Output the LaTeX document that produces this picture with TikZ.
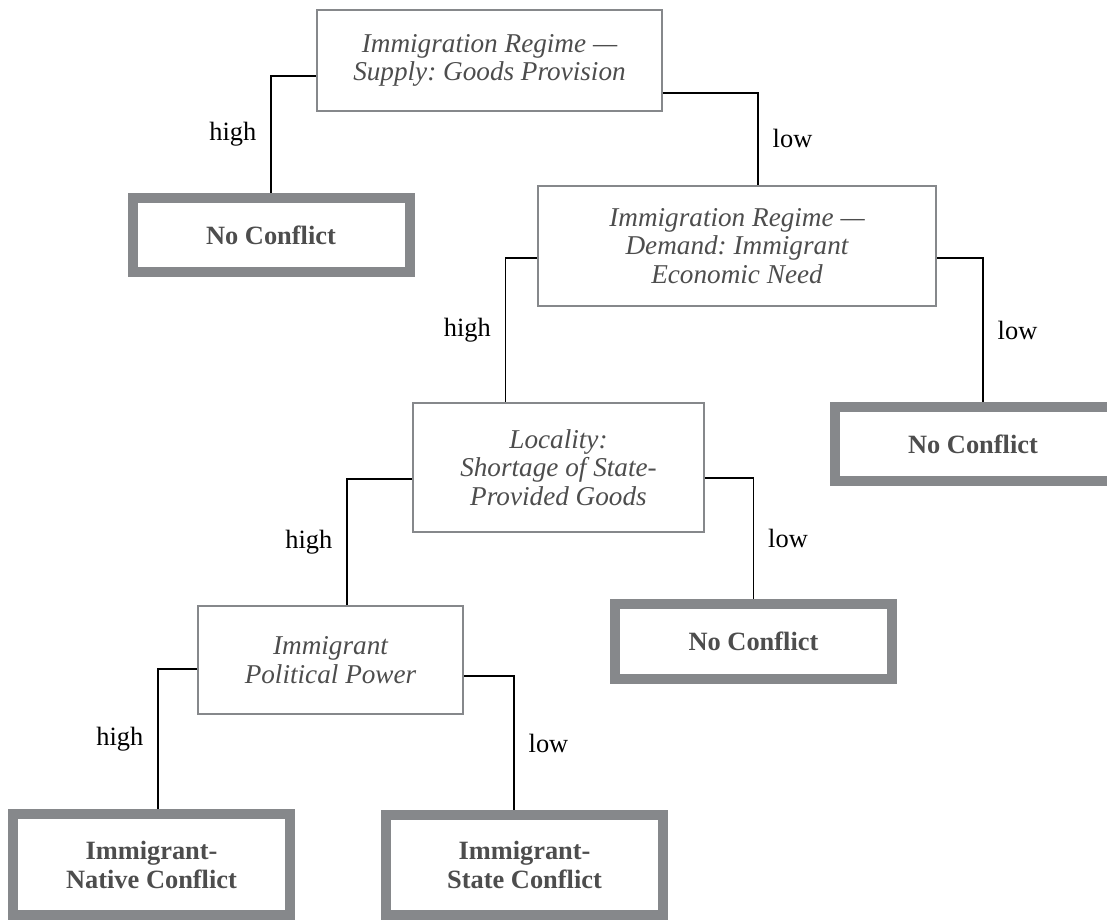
\documentclass[tikz,border=0pt]{standalone}
\usepackage{fontspec}
\setmainfont{Liberation Serif}
\frenchspacing
\definecolor{boxgray}{HTML}{86888B}
\definecolor{textgray}{HTML}{4D4D4D}

\begin{document}
\begin{tikzpicture}[
        x=0.5pt, y=-0.5pt,
        question/.style={draw=boxgray,line width=1.25pt,text=textgray,align=center,
            font=\fontsize{13.6}{14.2}\selectfont\itshape,inner sep=0pt},
        outcome/.style={draw=boxgray,line width=5pt,text=textgray,align=center,
            font=\fontsize{13.2}{14.5}\selectfont\bfseries,inner sep=0pt,
            minimum width=138.5pt},
        ledge/.style={left,draw=none,text=black,pos=0.75,inner sep=7pt,
            font=\fontsize{13.2}{14}\selectfont},
        redge/.style={right,draw=none,text=black,pos=0.75,inner sep=7pt,
            font=\fontsize{13.2}{14}\selectfont},
        conn/.style={line width=0.7pt},
        ]
    \useasboundingbox (0,0) rectangle (1107,920);

    % questions
    \node [question,minimum width=172.5pt,minimum height=50.5pt] (q1) at (489.5,60.5)
        {Immigration Regime ---\\Supply: Goods Provision};
    \node [question,minimum width=199pt,minimum height=60pt] (q2) at (737,246)
        {Immigration Regime ---\\Demand: Immigrant\\Economic Need};
    \node [question,minimum width=145.5pt,minimum height=64.5pt] (q3) at (558.5,467.5)
        {Locality:\\Shortage of State-\\Provided Goods};
    \node [question,minimum width=132.5pt,minimum height=54pt] (q4) at (330.5,660)
        {Immigrant\\Political Power};

    % outcomes
    \node [outcome,minimum height=37pt] (nc1) at (271,235) {No Conflict};
    \node [outcome,minimum height=37pt] (nc2) at (973,444) {No Conflict};
    \node [outcome,minimum height=37.5pt] (nc3) at (753.5,641.5) {No Conflict};
    \node [outcome,minimum height=50.5pt] (native) at (151.5,864.5) {Immigrant-\\Native Conflict};
    \node [outcome,minimum height=50pt] (state) at (524.5,865) {Immigrant-\\State Conflict};

    % branches
    \draw [conn] ([yshift=-7.75pt]q1.west) -| node[ledge] {high} (nc1.north);
    \draw [conn] ([yshift=-16.25pt]q1.east) -| node[redge] {low} ([xshift=10.5pt]q2.north);
    \draw [conn] ([yshift=-6pt]q2.west) -| node[ledge] {high} ([xshift=-26.5pt]q3.north);
    \draw [conn] ([yshift=-6pt]q2.east) -| node[redge] {low} ([xshift=5pt]nc2.north);
    \draw [conn] ([yshift=-5.75pt]q3.west) -| node[ledge] {high} ([xshift=8.25pt]q4.north);
    \draw [conn] ([yshift=-5.25pt]q3.east) -| node[redge] {low} (nc3.north);
    \draw [conn] ([yshift=-4.5pt]q4.west) -| node[ledge] {high} ([xshift=3.25pt]native.north);
    \draw [conn] ([yshift=-8pt]q4.east) -| node[redge] {low} ([xshift=-5.25pt]state.north);
\end{tikzpicture}
\end{document}
